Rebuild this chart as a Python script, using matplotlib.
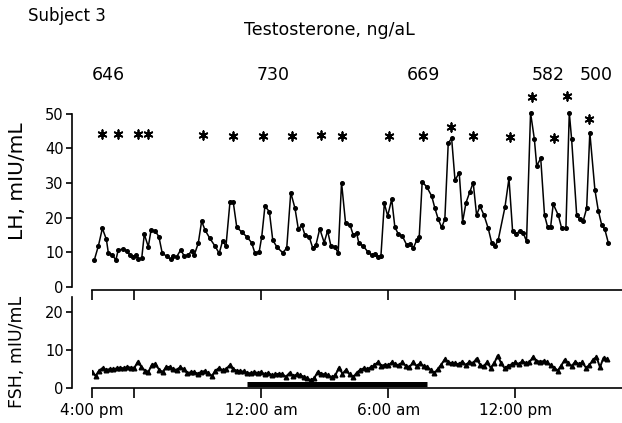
import numpy as np
import matplotlib
matplotlib.use("Agg")
import matplotlib.pyplot as plt
import matplotlib.transforms as mtransforms

# ---------------- DATA ----------------
# hours after 4:00 pm
lh_time = [0.11, 0.30, 0.49, 0.68, 0.77, 0.96, 1.13, 1.24, 1.48, 1.64, 1.79, 1.95,
           2.06, 2.19, 2.35, 2.47, 2.66, 2.79, 2.98, 3.16, 3.32, 3.53, 3.72, 3.81,
           4.00, 4.19, 4.36, 4.55, 4.71, 4.83, 5.02, 5.18, 5.34, 5.57, 5.81, 6.01,
           6.17, 6.33, 6.52, 6.67, 6.84, 7.07, 7.31, 7.54, 7.70, 7.90, 8.02, 8.17,
           8.38, 8.54, 8.75, 9.01, 9.20, 9.39, 9.59, 9.75, 9.91, 10.06, 10.26, 10.43,
           10.58, 10.76, 10.97, 11.13, 11.29, 11.48, 11.63, 11.79, 11.98, 12.19, 12.34,
           12.50, 12.61, 12.82, 13.02, 13.21, 13.37, 13.50, 13.65, 13.81, 13.97, 14.16,
           14.31, 14.47, 14.66, 14.87, 15.02, 15.18, 15.34, 15.46, 15.60, 15.81, 16.05,
           16.20, 16.36, 16.52, 16.67, 16.83, 16.99, 17.15, 17.35, 17.51, 17.67, 17.86,
           18.01, 18.17, 18.33, 18.52, 18.72, 18.88, 19.04, 19.19, 19.51, 19.70, 19.87,
           20.03, 20.22, 20.37, 20.53, 20.72, 20.90, 21.01, 21.20, 21.38, 21.53, 21.67,
           21.79, 22.03, 22.19, 22.39, 22.55, 22.66, 22.90, 23.05, 23.21, 23.37, 23.52,
           23.76, 23.92, 24.08, 24.23, 24.39]
lh_value = [7.8, 11.8, 16.9, 13.7, 9.9, 9.2, 7.8, 10.7, 10.9, 10.5, 9.2, 8.7,
            9.2, 8.0, 8.3, 15.2, 11.6, 16.4, 16.2, 14.5, 9.7, 8.9, 8.0, 8.9,
            8.7, 10.7, 8.9, 9.2, 10.5, 9.2, 12.6, 19.0, 16.4, 14.0, 11.8, 9.7,
            13.3, 11.8, 24.6, 24.6, 17.2, 15.9, 14.5, 12.8, 9.7, 10.2, 14.5, 23.3,
            21.7, 13.5, 11.4, 9.9, 11.2, 27.2, 22.7, 16.6, 17.9, 15.0, 14.5, 11.2,
            12.1, 16.8, 12.8, 16.2, 11.8, 11.6, 9.7, 30.1, 18.4, 17.9, 15.0,
            15.6, 12.6, 11.8, 10.2, 9.2, 9.5, 8.7, 8.9, 24.1, 20.5, 25.3,
            17.2, 15.3, 14.7, 12.1, 12.4, 11.2, 13.5, 14.5, 30.3, 28.9, 26.2,
            22.7, 19.5, 17.2, 19.5, 41.4, 42.9, 30.8, 32.9, 18.8, 24.3, 27.5,
            30.1, 20.7, 23.3, 20.7, 16.9, 12.8, 11.8, 13.5, 23.0, 31.3, 16.2,
            15.3, 16.2, 15.6, 13.2, 50.2, 42.6, 34.9, 37.1, 20.7, 17.2, 17.4,
            23.9, 20.7, 16.9, 16.9, 50.2, 42.6, 20.7, 19.5, 19.1, 22.7, 44.5,
            28.0, 22.0, 17.9, 16.6, 12.8]

# FSH sampled every 10 min from 4:00 pm
fsh_value = [4.3, 3.2, 4.6, 5.3, 4.8, 5.0,
             5.0, 5.2, 5.4, 5.2, 5.6, 5.4,
             5.3, 7.0, 5.6, 4.6, 4.3, 6.2,
             6.3, 4.9, 4.2, 5.5, 5.6, 5.0,
             4.8, 5.5, 5.0, 3.9, 4.2, 4.2,
             3.8, 4.3, 4.5, 3.9, 3.2, 4.6,
             5.3, 4.7, 5.0, 6.0, 5.0, 4.6,
             4.4, 4.4, 4.0, 3.9, 4.2, 4.0,
             4.2, 3.6, 4.0, 3.4, 3.6, 3.8,
             3.6, 3.0, 4.0, 3.1, 3.6, 3.4,
             3.0, 2.6, 2.0, 2.6, 4.3, 3.8,
             3.6, 3.4, 2.8, 3.4, 5.4, 3.8,
             4.8, 3.6, 2.8, 4.0, 4.8, 5.2,
             5.0, 5.5, 6.0, 6.8, 5.8, 6.2,
             6.0, 6.8, 6.3, 6.0, 6.8, 5.8,
             5.5, 6.8, 5.8, 6.5, 5.8, 5.6,
             4.8, 3.9, 5.0, 6.2, 7.6, 6.8,
             6.6, 6.5, 6.3, 7.0, 6.0, 7.0,
             6.5, 7.8, 6.2, 5.7, 6.8, 5.4,
             6.5, 8.6, 6.5, 5.2, 5.9, 6.3,
             6.8, 6.3, 7.1, 6.6, 6.8, 8.2,
             7.2, 7.0, 7.1, 6.8, 6.0, 5.4,
             4.6, 5.9, 7.5, 6.5, 5.8, 7.0,
             6.3, 6.8, 5.4, 6.0, 7.5, 8.2,
             5.5, 8.0, 7.6]
fsh_interval_min = 10

# LH pulses marked with asterisks
pulse_time = [0.46, 1.23, 2.17, 2.65, 5.24, 6.66, 8.08, 9.45, 10.82, 11.81,
              14.03, 15.62, 16.96, 18.0, 19.75, 20.78, 21.82, 22.43, 23.48]
pulse_y = [44.1, 44.1, 44.1, 44.1, 43.8, 43.5, 43.5, 43.5, 43.8, 43.5,
           43.5, 43.5, 46.1, 43.5, 43.2, 54.8, 43.0, 55.0, 48.4]

testo_time = [0.76, 8.55, 15.68, 21.54, 23.81]
testo_value = ["646", "730", "669", "582", "500"]

# sleep period
sleep_start, sleep_end = 7.33, 15.83

tick_hours = [0, 2, 8, 14, 20]
tick_labels = ["4:00 pm", "", "12:00 am", "6:00 am", "12:00 pm"]

# ---------------- FIGURE ----------------
plt.rcParams["font.family"] = "DejaVu Sans"
fig = plt.figure(figsize=(6.22, 4.23), dpi=100)
xmax = 25.04

ax1 = fig.add_axes([92 / 622, 0.3215, 1 - 92 / 622, 0.4676])
ax2 = fig.add_axes([92 / 622, 0.0827, 1 - 92 / 622, 0.2144])

for ax in (ax1, ax2):
    ax.set_xlim(0, xmax)
    for s in ("top", "right"):
        ax.spines[s].set_visible(False)
    ax.spines["left"].set_position(("outward", 14.4))
    ax.spines["left"].set_linewidth(1.2)
    ax.spines["bottom"].set_linewidth(1.2)
    ax.set_xticks(tick_hours)
    ax.tick_params(axis="x", direction="out", length=7, width=1.2)
    ax.tick_params(axis="y", direction="out", length=4, width=1.2,
                   labelsize=10.5, pad=2)
    ax.patch.set_visible(False)

# ---------------- LH ----------------
ax1.plot(lh_time, lh_value, color="black", lw=1.1, marker="o", ms=2.6)
ax1.scatter(pulse_time, pulse_y, marker=(6, 2, 0), s=38, color="black",
            linewidths=1.3, clip_on=False)
ax1.set_ylim(0, 57)
ax1.set_yticks([0, 10, 20, 30, 40, 50])
ax1.spines["left"].set_bounds(0, 50)
ax1.spines["bottom"].set_position(("outward", 2.2))
ax1.set_xticklabels([])
ax1.set_ylabel("LH, mIU/mL", fontsize=14.5)
ax1.yaxis.set_label_coords((27 - 92) / 530, (287 - 181) / 197.8)

# ---------------- FSH ----------------
fsh_time = np.arange(len(fsh_value)) * fsh_interval_min / 60
ax2.plot(fsh_time, fsh_value, color="black", lw=1.4, marker="^", ms=3.3)
ax2.hlines(1.05, sleep_start, sleep_end, color="black", lw=3.6)
ax2.set_ylim(0, 24)
ax2.set_yticks([0, 10, 20])
ax2.set_xticklabels(tick_labels, fontsize=11)
ax2.tick_params(axis="x", pad=4)
ax2.set_ylabel("FSH, mIU/mL", fontsize=12.5)
ax2.yaxis.set_label_coords((26 - 92) / 530, (388 - 352) / 90.7)

# ---------------- HEADER ----------------
fig.text(28 / 622, 1 - 16 / 423, "Subject 3", fontsize=12, va="center", ha="left")
fig.text(329 / 622, 1 - 30 / 423, "Testosterone, ng/aL", fontsize=12.5,
         va="center", ha="center")
trans = mtransforms.blended_transform_factory(ax1.transData, fig.transFigure)
for t, v in zip(testo_time, testo_value):
    ax1.text(t, 1 - 75 / 423, v, transform=trans, fontsize=12.5,
             ha="center", va="center")

fig.savefig("out.png", dpi=100)
